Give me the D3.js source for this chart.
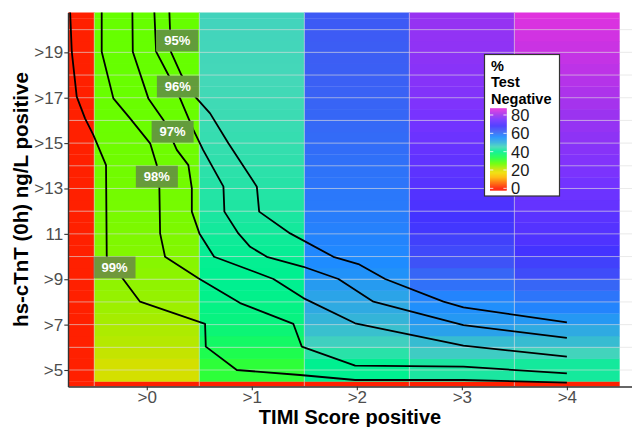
<!DOCTYPE html>
<html><head><meta charset="utf-8">
<script src="https://cdn.jsdelivr.net/npm/d3@7"></script>
<style>
body{margin:0;background:#fff}
svg{display:block}
text{font-family:"Liberation Sans",Arial,Helvetica,sans-serif}
</style>
</head><body>
<svg id="chart" width="632" height="427"></svg>
<script>
// ---------------- data ----------------
const timiColumns = [-1, 0, 1, 2, 3, 4];
const xTickValues = [0, 1, 2, 3, 4];
const xTickLabels = [">0", ">1", ">2", ">3", ">4"];
const yTickValues = [5, 7, 9, 11, 13, 15, 17, 19];
const yTickLabels = [">5", ">7", ">9", "11", ">13", ">15", ">17", ">19"];
const tntRowCenters = [4.25,4.75,5.25,5.75,6.25,6.75,7.25,7.75,8.25,8.75,9.25,9.75,10.25,10.75,11.25,11.75,12.25,12.75,13.25,13.75,14.25,14.75,15.25,15.75,16.25,16.75,17.25,17.75,18.25,18.75,19.25,19.75,20.25,20.75];

// % test negative, bottom row to top row, one array per TIMI column
const negTimiM1 = [0,0,0,0,0,0,0,0,0,0,0,0,0,0,0,0,0,0,0,0,0,0,0,0,0,0,0,0,0,0,0,0,0,0];
const negTimi0 = [0,20,20,21,22,22.5,23,23.5,24,24.3,24.6,24.9,25.2,25.4,25.6,25.8,26,26.1,26.2,26.3,26.4,26.5,26.6,26.7,26.8,26.8,26.9,26.9,27,27,27,27,27,27];
const negTimi1 = [0,32,32,34,36,37.5,38.5,39,39.5,40,40,40.3,40.6,41,41.5,42,42.3,42.6,42.9,43.2,43.5,43.8,44,44.2,44.4,44.6,44.8,45,45.1,45.2,45.3,45.4,45.5,45.6];
const negTimi2 = [0,40,40,43,46,48,49.5,51,52,53.5,55,56,56.5,57,57.5,58,58.3,58.6,59,59.3,59.6,60,60.3,60.6,60.9,61.2,61.5,61.7,61.9,62,62.2,62.4,62.5,62.6];
const negTimi3 = [0,42,42,46.5,48.5,52.5,54,55.5,57,59.5,61,63.5,65,66,67.5,68,69.3,70,70.7,71.4,72,72.7,73.5,74.3,75.1,76,76.4,76.8,77.2,77.6,78,78.3,78.7,79];
const negTimi4 = [0,41.5,41.5,45.5,48.5,51,54,57,59,61,64.5,66,68,69.5,70.3,71,72.5,73.5,74.5,75.5,76.3,77,77.8,78.6,79.4,80.5,81.3,82.1,82.9,83.6,84.3,85,85.8,86.5];

// NPV contour lines [TIMI, hs-cTnT]
const contour99 = [[-0.73,20.8],[-0.714,19.03],[-0.667,17.05],[-0.588,16.09],[-0.509,15.36],[-0.388,14.03],[-0.381,9.99],[-0.254,9.19],[-0.064,8.01],[0.555,7.03],[0.562,6.03],[0.857,5.0],[1.46,4.78],[1.984,4.56],[3.015,4.56],[4.0,4.44]];
const contour98 = [[-0.429,20.8],[-0.429,19.03],[-0.318,16.97],[-0.159,16.09],[0.032,14.99],[0.095,14.03],[0.12,13.01],[0.127,11.02],[0.174,9.99],[0.491,9.04],[0.889,7.95],[1.396,7.03],[1.476,6.03],[1.984,5.19],[3.015,5.15],[4.0,4.85]];
const contour97 = [[-0.137,20.8],[-0.133,19.03],[0.015,16.97],[0.158,16.02],[0.286,14.7],[0.396,14.03],[0.429,13.01],[0.429,11.98],[0.501,11.02],[0.641,9.99],[1.031,9.32],[1.206,9.01],[1.491,8.17],[1.984,7.06],[3.015,6.07],[4.0,5.59]];
const contour96 = [[0.072,20.8],[0.089,19.03],[0.206,18.0],[0.317,16.97],[0.444,15.58],[0.536,14.7],[0.73,13.08],[0.739,11.98],[0.872,11.02],[0.984,10.43],[1.143,9.99],[1.491,9.55],[1.825,9.01],[2.158,8.01],[3.015,6.98],[4.0,6.42]];
const contour95 = [[0.215,20.8],[0.229,19.03],[0.33,18.0],[0.46,17.05],[0.603,16.31],[0.777,14.99],[1.048,13.08],[1.07,11.98],[1.365,11.02],[1.777,9.99],[2.015,9.67],[2.27,9.01],[2.825,8.01],[3.015,7.76],[4.0,7.1]];
const contourLabels = ["95%", "96%", "97%", "98%", "99%"];
const contourLabelX = [0.29, 0.296, 0.246, 0.096, -0.307];
const contourLabelY = [19.52, 17.49, 15.5, 13.52, 9.52];

// colour scale (legend)
const legendTitle = ["%", "Test", "Negative"];
const legendTicks = [0, 20, 40, 60, 80];
const legendRange = [-1.8, 87.3];
const colorStopValues = [-1.8, 0, 6, 12, 17, 20, 27, 33, 40, 45, 50, 56, 62, 68, 75, 80, 87.3];
const colorStopColors = ["#ff1a00","#ff2000","#ff6a00","#ffb800","#f0e000","#d4e000","#66ff00","#22ff44","#00f090","#44d8b8","#32b0dc","#1e8cff","#3c5ef4","#4433ff","#7733ff","#a033ee","#e833dc"];

const xTitle = "TIMI Score positive";
const yTitle = "hs-cTnT (0h) ng/L positive";

// ---------------- drawing ----------------
const svg = d3.select("#chart");
const P = {l: 68, r: 632, t: 12.5, b: 386.5};
const xs = d3.scaleLinear().domain([-0.75, 4.62]).range([P.l, P.r]);
const ys = d3.scaleLinear().domain([4.273, 20.756]).range([P.b, P.t]);
const color = d3.scaleLinear().domain(colorStopValues).range(colorStopColors)
  .interpolate(d3.interpolateRgb).clamp(true);

const defs = svg.append("defs");
defs.append("clipPath").attr("id", "panelClip")
  .append("rect").attr("x", P.l).attr("y", P.t).attr("width", P.r - P.l).attr("height", P.b - P.t);

const boxW = 42, boxH = 21.7;
const mask = defs.append("mask").attr("id", "lblMask").attr("maskUnits", "userSpaceOnUse")
  .attr("x", 0).attr("y", 0).attr("width", 632).attr("height", 427);
mask.append("rect").attr("width", 632).attr("height", 427).attr("fill", "#fff");
contourLabels.forEach((t, i) => {
  mask.append("rect")
    .attr("x", xs(contourLabelX[i]) - boxW / 2).attr("y", ys(contourLabelY[i]) - boxH / 2)
    .attr("width", boxW).attr("height", boxH).attr("fill", "#000");
});

const panel = svg.append("g").attr("clip-path", "url(#panelClip)");

const columnValues = [negTimiM1, negTimi0, negTimi1, negTimi2, negTimi3, negTimi4];
const tiles = timiColumns.flatMap((cx, ci) =>
  tntRowCenters.map((ry, ri) => ({x: cx, y: ry, v: columnValues[ci][ri]})));

panel.append("g").selectAll("rect").data(tiles).join("rect")
  .attr("x", d => xs(d.x - 0.5))
  .attr("width", d => xs(d.x + 0.5) - xs(d.x - 0.5) + 0.3)
  .attr("y", d => ys(d.y + 0.25))
  .attr("height", d => ys(d.y - 0.25) - ys(d.y + 0.25) + 0.3)
  .attr("fill", d => color(d.v));

// grid lines (drawn over the tiles)
const gridY = [5,6,7,8,9,10,11,12,13,14,15,16,17,18,19,20];
const gridX = [-0.5, 0.5, 1.5, 2.5, 3.5];
const grid = panel.append("g").attr("stroke", "#dcdcdc").attr("stroke-opacity", 0.6).attr("stroke-width", 1);
grid.selectAll("line.h").data(gridY).join("line").attr("class", "h")
  .attr("x1", P.l).attr("x2", P.r).attr("y1", d => ys(d)).attr("y2", d => ys(d));
grid.selectAll("line.v").data(gridX).join("line").attr("class", "v")
  .attr("y1", P.t).attr("y2", P.b).attr("x1", d => xs(d)).attr("x2", d => xs(d));

// contour lines
const line = d3.line().x(d => xs(d[0])).y(d => ys(d[1]));
panel.append("g").attr("mask", "url(#lblMask)")
  .selectAll("path").data([contour99, contour98, contour97, contour96, contour95]).join("path")
  .attr("d", line).attr("fill", "none").attr("stroke", "#000")
  .attr("stroke-width", 1.8).attr("stroke-linejoin", "round");

// contour labels
const lbl = panel.append("g");
contourLabels.forEach((t, i) => {
  const cx = xs(contourLabelX[i]), cy = ys(contourLabelY[i]);
  lbl.append("rect").attr("x", cx - boxW / 2).attr("y", cy - boxH / 2)
    .attr("width", boxW).attr("height", boxH)
    .attr("fill", "rgb(96,96,96)").attr("fill-opacity", 0.62);
  lbl.append("text").attr("x", cx).attr("y", cy).attr("dy", "0.36em")
    .attr("text-anchor", "middle").attr("fill", "#fff")
    .attr("font-weight", "bold").attr("font-size", 13).text(t);
});

// axes
const yAxis = d3.axisLeft(ys).tickValues(yTickValues)
  .tickFormat((d, i) => yTickLabels[i]).tickSize(3.7).tickSizeOuter(0).tickPadding(1.2);
const gy = svg.append("g").attr("transform", `translate(${P.l},0)`).call(yAxis);
const xAxis = d3.axisBottom(xs).tickValues(xTickValues)
  .tickFormat((d, i) => xTickLabels[i]).tickSize(3.7).tickSizeOuter(0).tickPadding(1.0);
const gx = svg.append("g").attr("transform", `translate(0,${P.b})`).call(xAxis);
[gx, gy].forEach(g => {
  g.select(".domain").attr("stroke", "#333").attr("stroke-width", 1.4);
  g.selectAll(".tick line").attr("stroke", "#333").attr("stroke-width", 1.1);
  g.selectAll(".tick text").attr("fill", "#4d4d4d").attr("font-size", 17)
    .style("font-family", '"Liberation Sans",Arial,sans-serif');
});

// axis titles
svg.append("text").attr("x", (P.l + P.r) / 2).attr("y", 423.5)
  .attr("text-anchor", "middle").attr("font-weight", "bold").attr("font-size", 20)
  .attr("fill", "#000").text(xTitle);
svg.append("text").attr("transform", `translate(28.3,${(P.t + P.b) / 2}) rotate(-90)`)
  .attr("text-anchor", "middle").attr("font-weight", "bold").attr("font-size", 20.5)
  .attr("fill", "#000").text(yTitle);

// legend
const lg = svg.append("g");
lg.append("rect").attr("x", 484.5).attr("y", 54.5).attr("width", 75).attr("height", 141.5)
  .attr("fill", "#fff").attr("stroke", "#333").attr("stroke-width", 1.2);
legendTitle.forEach((t, i) => {
  lg.append("text").attr("x", 491).attr("y", 71 + i * 16.4)
    .attr("font-weight", "bold").attr("font-size", 14.5).attr("fill", "#000").text(t);
});
const ly = d3.scaleLinear().domain(legendRange).range([190, 108.3]);
const barX = 490, barW = 16.7;
const steps = d3.range(ly.range()[1], ly.range()[0], 0.5);
lg.append("g").selectAll("rect").data(steps).join("rect")
  .attr("x", barX).attr("width", barW).attr("y", d => d).attr("height", 0.8)
  .attr("fill", d => color(ly.invert(d + 0.25)));
lg.append("g").selectAll("line").data(legendTicks.flatMap(v => [[v, 0], [v, 1]])).join("line")
  .attr("x1", d => d[1] ? barX + barW - 3.3 : barX).attr("x2", d => d[1] ? barX + barW : barX + 3.3)
  .attr("y1", d => ly(d[0])).attr("y2", d => ly(d[0]))
  .attr("stroke", "#fff").attr("stroke-width", 0.8);
lg.append("g").selectAll("text").data(legendTicks).join("text")
  .attr("x", 511).attr("y", d => ly(d)).attr("dy", "0.36em")
  .attr("font-size", 16.5).attr("fill", "#1a1a1a").text(d => d);
</script>
</body></html>
